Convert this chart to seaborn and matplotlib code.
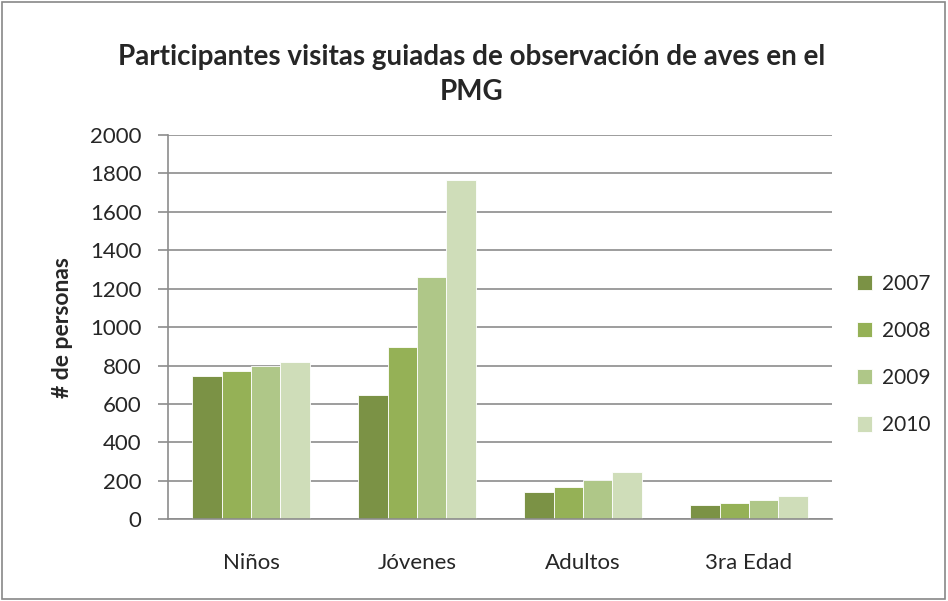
import pandas as pd
import matplotlib.pyplot as plt
import seaborn as sns
from matplotlib.patches import Rectangle

# data
categories = ["Niños", "Jóvenes", "Adultos", "3ra Edad"]
years = ["2007", "2008", "2009", "2010"]
v2007 = [746, 649, 144, 73]
v2008 = [772, 899, 170, 85]
v2009 = [797, 1260, 205, 100]
v2010 = [819, 1766, 245, 123]
colors = ["#7B9245", "#95B156", "#AFC788", "#CFDDB9"]

df = pd.DataFrame({
    "Grupo": categories * 4,
    "Año": [y for y in years for _ in categories],
    "Personas": v2007 + v2008 + v2009 + v2010,
})

sns.set_style("white")
plt.rcParams["font.family"] = ["Lato", "DejaVu Sans"]

fig = plt.figure(figsize=(9.48, 6.01), dpi=100)
ax = fig.add_axes([0.1772, 0.1359, 0.7004, 0.6395])

sns.barplot(
    data=df,
    x="Grupo",
    y="Personas",
    hue="Año",
    palette=colors,
    saturation=1,
    width=0.71,
    edgecolor="white",
    linewidth=0.6,
    ax=ax,
)

ax.set_ylim(0, 2000)
ax.set_yticks(range(0, 2001, 200))
ax.yaxis.grid(True, color="#8C8C8C", linewidth=1.2)
ax.set_axisbelow(True)
ax.set_xlim(-0.5, 3.5)

for side in ["top", "right"]:
    ax.spines[side].set_visible(False)
for side in ["left", "bottom"]:
    ax.spines[side].set_color("#8C8C8C")
    ax.spines[side].set_linewidth(1.2)

ax.tick_params(axis="y", direction="out", length=7, width=1.2,
               color="#8C8C8C", labelsize=16, pad=12, left=True)
ax.tick_params(axis="x", length=0, labelsize=16, pad=24)

ax.set_xlabel("")
ax.set_ylabel("# de personas", fontsize=16.5, fontweight="bold", labelpad=12)

fig.text(0.497, 0.876,
         "Participantes visitas guiadas de observación de aves en el\nPMG",
         ha="center", va="center", fontsize=20, fontweight="bold",
         linespacing=1.45)

ax.legend(
    loc="center left",
    bbox_to_anchor=(0.884, 0.41),
    bbox_transform=fig.transFigure,
    frameon=False,
    fontsize=15,
    handlelength=0.75,
    handleheight=0.75,
    handletextpad=0.45,
    labelspacing=1.3,
)

fig.patches.append(Rectangle((0.002, 0.003), 0.995, 0.993,
                             transform=fig.transFigure, fill=False,
                             edgecolor="#888888", linewidth=1.2))

plt.savefig("out.png", dpi=100)
